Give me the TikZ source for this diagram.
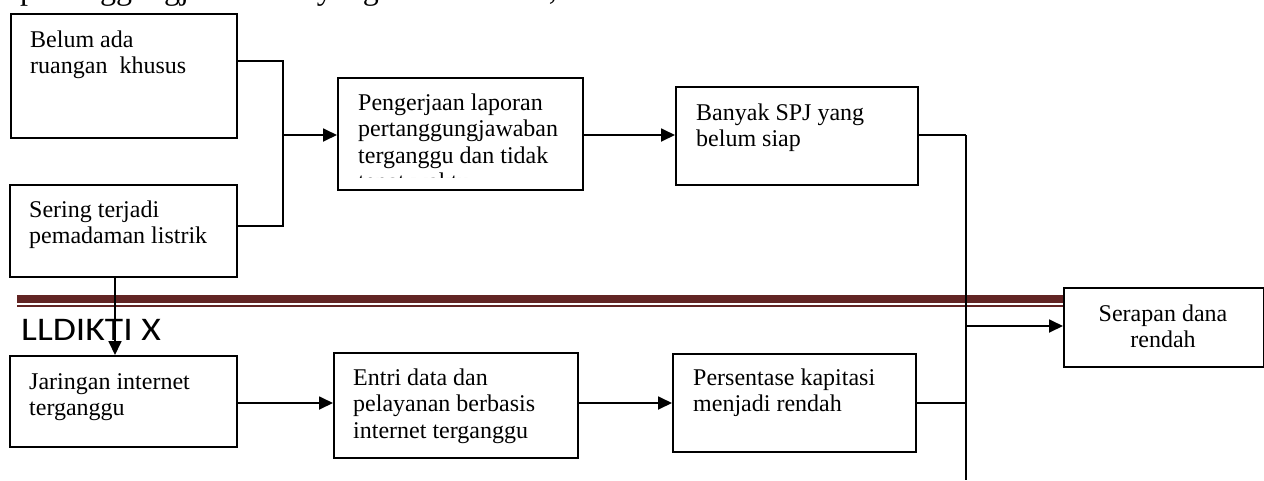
\documentclass[tikz,border=0pt]{standalone}
\usepackage{fontspec}
\setmainfont{Liberation Serif}
\newfontfamily\headfont{Carlito}
\usetikzlibrary{arrows.meta}
\definecolor{bandred}{HTML}{622423}
\begin{document}
\begin{tikzpicture}[x=1pt,y=-1pt,
  box/.style={draw=black, line width=1.8pt, fill=white, anchor=north west, inner sep=0pt},
  txt/.style={anchor=base west, align=left, inner sep=0pt, font=\fontsize{24}{26.5}\selectfont},
  conn/.style={line width=1.8pt},
  thinconn/.style={line width=1.4pt},
  arr/.style={line width=1.8pt, -{Triangle[length=14pt,width=13pt]}}]
\clip (0,0) rectangle (1264,480);
\fill[white] (0,0) rectangle (1264,480);
% clipped top line of the page text
\node[anchor=base west, inner sep=0pt, font=\fontsize{32}{36}\selectfont] (toptext) at (20,-1) {pertanggungjawaban\hspace{30pt}yang\hspace{170pt},};
% double rule
\fill[bandred] (17,295) rectangle (1063,303);
\fill[bandred] (17,305) rectangle (1063,307);
% boxes
\node[box, minimum width=226pt, minimum height=124pt] (b1) at (10,13) {};
\node[box, minimum width=227pt, minimum height=92pt] (b2) at (9,184) {};
\node[box, minimum width=245pt, minimum height=112pt] (b3) at (337,77) {};
\node[box, minimum width=242pt, minimum height=98pt] (b4) at (675,86) {};
\node[box, minimum width=200pt, minimum height=79pt] (b5) at (1063,287) {};
\node[box, minimum width=227pt, minimum height=91pt] (b6) at (9,355) {};
\node[box, minimum width=244pt, minimum height=105pt] (b7) at (333,352) {};
\node[box, minimum width=243pt, minimum height=98pt] (b8) at (672,353) {};
% texts (base anchor = baseline of the last line)
\node[txt] (t1) at (30,73.5) {Belum ada\\ruangan\ \ khusus};
\node[txt] (t2) at (29,243.5) {Sering terjadi\\pemadaman listrik};
\begin{scope}
\clip (338,78) rectangle (581,177.5);
\node[txt] (t3) at (358,189.5) {Pengerjaan laporan\\pertanggungjawaban\\terganggu dan tidak\\tepat waktu};
\end{scope}
\node[txt] (t4) at (696,146.5) {Banyak SPJ yang\\belum siap};
\node[txt, anchor=base, align=center] (t5) at (1163,347.5) {Serapan dana\\rendah};
\node[txt] (t6) at (29,415.5) {Jaringan internet\\terganggu};
\node[txt] (t7) at (353,438) {Entri data dan\\pelayanan berbasis\\internet terganggu};
\node[txt] (t8) at (693,411.5) {Persentase kapitasi\\menjadi rendah};
\node[anchor=base west, inner sep=0pt, font=\headfont\fontsize{33}{38}\selectfont] (lbl) at (21,340) {\scalebox{1.14}[1]{LLDIKTI X}};
% junction points
\coordinate (jtop) at (283,61);
\coordinate (jbot) at (283,226);
\coordinate (jmid) at (283,135);
\coordinate (vtop) at (966,135);
\coordinate (vmid) at (966,326);
\coordinate (vlow) at (966,403);
\coordinate (vbot) at (966,480);
\coordinate (sx) at (115,300);
% connectors
\draw[conn] (b1.east |- jtop) -- (jtop) -- (jbot) -- (b2.east |- jbot);
\draw[arr] (jmid) -- (b3.west |- jmid);
\draw[arr] (b3.east |- jmid) -- (b4.west |- jmid);
\draw[thinconn] (b4.east |- vtop) -- (vtop);
\draw[conn] (vtop) -- (vbot);
\draw[arr] (vmid) -- (b5.west |- vmid);
\draw[arr] (b6.east |- vlow) -- (b7.west |- vlow);
\draw[arr] (b7.east |- vlow) -- (b8.west |- vlow);
\draw[thinconn] (b8.east |- vlow) -- (vlow);
\draw[arr] (b2.south -| sx) -- (b6.north -| sx);
\end{tikzpicture}
\end{document}
